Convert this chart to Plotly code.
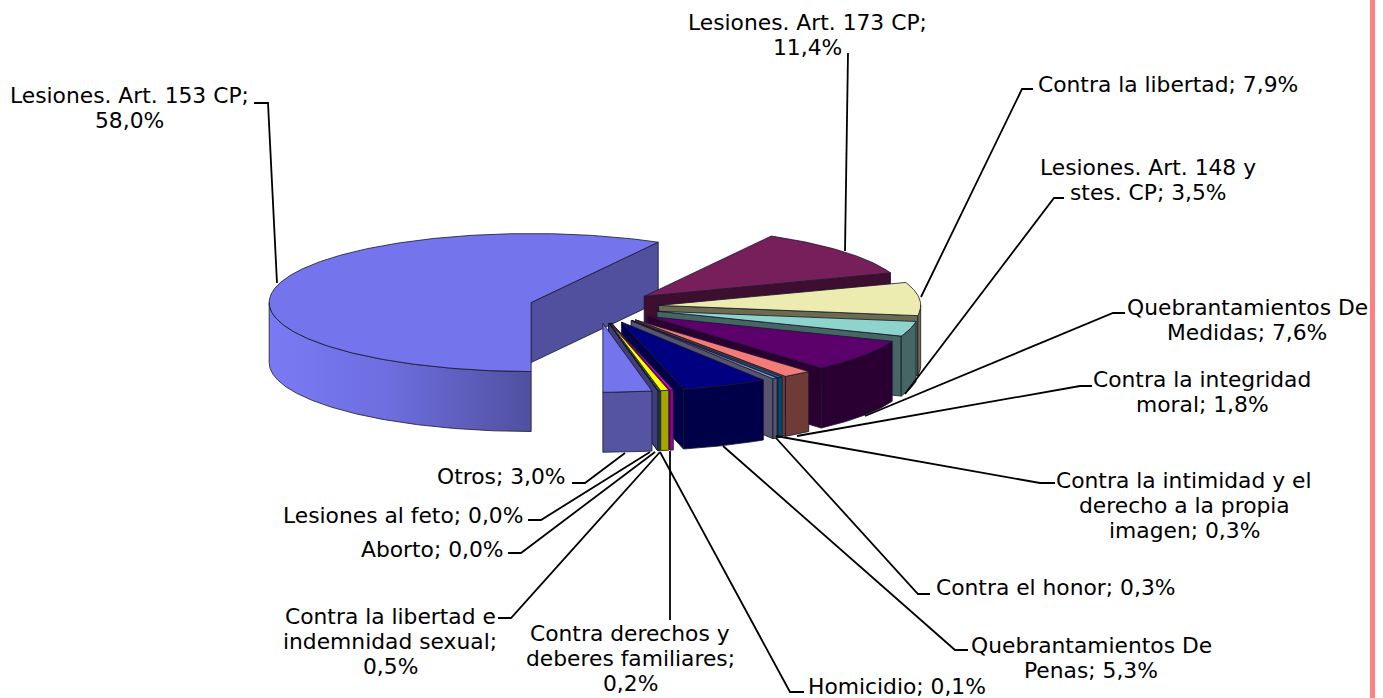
import numpy as np
import plotly.graph_objects as go

# ---------- data ----------
categories = ["Lesiones. Art. 153 CP", "Lesiones. Art. 173 CP", "Contra la libertad",
              "Lesiones. Art. 148 y stes. CP", "Quebrantamientos De Medidas",
              "Contra la integridad moral", "Contra la intimidad y el derecho a la propia imagen",
              "Contra el honor", "Quebrantamientos De Penas", "Contra derechos y deberes familiares",
              "Contra la libertad e indemnidad sexual", "Homicidio", "Aborto", "Lesiones al feto", "Otros"]
values = [58.0, 11.4, 7.9, 3.5, 7.6, 1.8, 0.3, 0.3, 5.3, 0.2, 0.5, 0.1, 0.0, 0.0, 3.0]

# ---------- styles ----------
top_colors = ["#7474ED", "#761F5A", "#ECECB0", "#8FD3CD", "#5C006C", "#F47C78", "#0070B0", "#9C9CCC",
              "#000080", "#E800D8", "#FFFF00", "#008C8C", "#30307A", "#40407E", "#7474ED"]
wall_colors = ["#50509F", "#3D0E30", "#6B6B50", "#456664", "#2A0033", "#6E3B36", "#004C70", "#55556F",
               "#000048", "#A000A0", "#A6A600", "#007070", "#2A2A60", "#3E3E7A", "#5454A2"]
draw_order = [0, 1, 2, 3, 4, 5, 6, 7, 8, 9, 10, 11, 12, 13, 14]
explode = [68, 62, 62, 62, 62, 62, 62, 62, 62, 62, 62, 62, 62, 62, 62]
CX, CY, RX, RY, DEPTH, START = 597, 307, 262, 69, 60, 180
SQUASH = RY / RX
EDGE = dict(color="#16162a", width=0.8)
LINE_PITCH = 25

# ---------- label layout ----------
label_text = [
    "Lesiones. Art. 153 CP;<br>58,0%", "Lesiones. Art. 173 CP;<br>11,4%", "Contra la libertad; 7,9%",
    "Lesiones. Art. 148 y<br>stes. CP; 3,5%", "Quebrantamientos De<br>Medidas; 7,6%",
    "Contra la integridad<br>moral; 1,8%", "Contra la intimidad y el<br>derecho a la propia<br>imagen; 0,3%",
    "Contra el honor; 0,3%", "Quebrantamientos De<br>Penas; 5,3%", "Contra derechos y<br>deberes familiares;<br>0,2%",
    "Contra la libertad e<br>indemnidad sexual;<br>0,5%", "Homicidio; 0,1%", "Aborto; 0,0%",
    "Lesiones al feto; 0,0%", "Otros; 3,0%"]
label_x = [129, 807, 1168, 1148, 1247, 1202, 1184, 1055, 1091, 630, 390, 897, 432, 403, 501]
label_y = [108, 35, 84, 180, 320, 392, 505, 587, 658, 658, 641, 686, 549, 515, 476]
leader_x = [[254, 268, 277], [848, 848, 845], [1033, 1022, 921], [1064, 1054, 905],
            [1125, 1113, 865], [1092, 1080, 797], [1055, 1040, 776], [930, 918, 776],
            [968, 955, 723], [670, 670, 670], [498, 511, 660], [804, 790, 660],
            [508, 521, 655], [528, 541, 650], [572, 585, 625]]
leader_y = [[103, 103, 283], [53, 53, 251], [89, 89, 297], [198, 198, 394],
            [313, 313, 416], [386, 386, 436], [483, 483, 436], [594, 594, 438],
            [650, 650, 446], [620, 620, 451], [618, 618, 452], [692, 692, 452],
            [553, 553, 452], [520, 520, 452], [483, 483, 453]]

# ---------- geometry from the values ----------
fracs = np.array(values) / sum(values) * 360
starts = START + np.concatenate([[0], np.cumsum(fracs)[:-1]])
ends = starts + fracs
wrap = np.where(starts >= 360, 360, 0)
starts, ends = starts - wrap, ends - wrap


def pt(ax, ay, deg):
    r = np.radians(deg)
    return ax + RX * np.sin(r), ay - RY * np.cos(r)


fig = go.Figure()


def poly(xs, ys, fill, grad=None):
    kw = dict(fillgradient=grad) if grad else dict(fillcolor=fill)
    fig.add_trace(go.Scatter(x=list(xs), y=list(ys), mode="lines", fill="toself", line=EDGE,
                             hoverinfo="skip", showlegend=False, **kw))


for i in draw_order:
    a0, a1 = starts[i], ends[i]
    mid = np.radians((a0 + a1) / 2)
    ax = CX + explode[i] * np.sin(mid)
    ay = CY - explode[i] * SQUASH * np.cos(mid)
    ex, ey = pt(ax, ay, a1)
    if np.sin(np.radians(a1)) > 1e-6:
        poly([ax, ex, ex, ax, ax], [ay, ey, ey + DEPTH, ay + DEPTH, ay], wall_colors[i])
    sx, sy = pt(ax, ay, a0)
    if np.sin(np.radians(a0)) < -1e-6:
        poly([ax, sx, sx, ax, ax], [ay, sy, sy + DEPTH, ay + DEPTH, ay], wall_colors[i])
    lo, hi = max(a0, 90), min(a1, 270)
    if hi > lo:
        th = np.linspace(lo, hi, max(2, int((hi - lo) * 2) + 1))
        ox, oy = pt(ax, ay, th)
        grad = None
        if i == 0:
            grad = dict(type="horizontal", colorscale=[[0, "#7A7AF4"], [0.45, "#6E6EE0"], [1, "#50509F"]])
        poly(np.concatenate([ox, ox[::-1], ox[:1]]), np.concatenate([oy, oy[::-1] + DEPTH, oy[:1]]),
             wall_colors[i], grad)
    th = np.linspace(a0, a1, max(2, int((a1 - a0) * 2) + 1))
    tx, ty = pt(ax, ay, th)
    poly(np.concatenate([[ax], tx, [ax]]), np.concatenate([[ay], ty, [ay]]), top_colors[i])

for lx, ly in zip(leader_x, leader_y):
    fig.add_trace(go.Scatter(x=lx, y=ly, mode="lines", line=dict(color="#000000", width=1.8),
                             hoverinfo="skip", showlegend=False))
for t, x, y in zip(label_text, label_x, label_y):
    lines = t.split("<br>")
    for k, line in enumerate(lines):
        fig.add_annotation(x=x, y=y + (k - (len(lines) - 1) / 2) * LINE_PITCH, xref="x", yref="y",
                           text=line, showarrow=False, align="center", xanchor="center", yanchor="middle",
                           font=dict(family="DejaVu Sans, Verdana, sans-serif", size=21.8, color="#000000"))

fig.add_shape(type="rect", x0=1370, x1=1375, y0=0, y1=698, xref="x", yref="y",
              fillcolor="#FF8080", line=dict(width=0), layer="below")

fig.update_layout(width=1383, height=698, margin=dict(l=0, r=0, t=0, b=0),
                  paper_bgcolor="white", plot_bgcolor="white", showlegend=False,
                  xaxis=dict(range=[0, 1383], visible=False, fixedrange=True),
                  yaxis=dict(range=[698, 0], visible=False, fixedrange=True))
fig.write_html("out.html", config=dict(displayModeBar=False),
               post_script="document.body.style.margin='0';document.body.style.overflow='hidden';")
